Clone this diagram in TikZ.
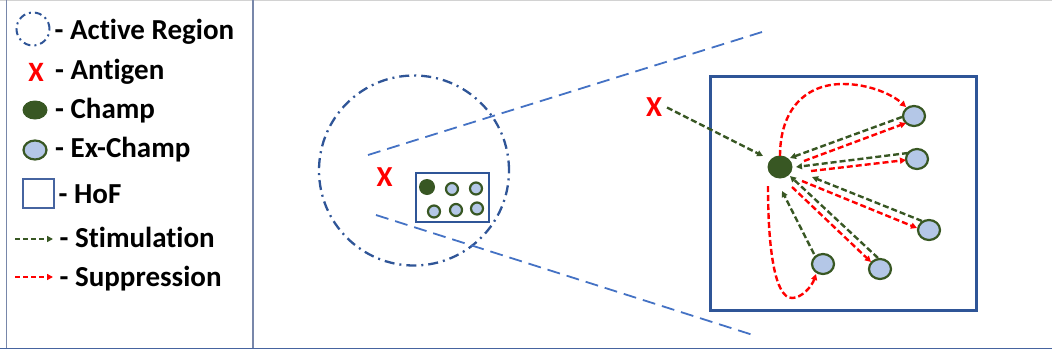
\documentclass[tikz,border=0pt]{standalone}
\usepackage{fontspec}
\setmainfont{Carlito}[Ligatures=NoCommon]
\usetikzlibrary{arrows.meta,shapes.geometric,calc}
\definecolor{champgreen}{RGB}{56,87,35}
\definecolor{exfill}{RGB}{180,199,231}
\definecolor{hofblue}{RGB}{47,85,151}
\definecolor{zoomblue}{RGB}{68,114,196}
\definecolor{frameblue}{RGB}{70,100,160}
\definecolor{framegray}{RGB}{120,135,170}
\definecolor{topgray}{RGB}{210,210,210}
\tikzset{
  champ/.style={ellipse, fill=champgreen, inner sep=0, minimum width=25, minimum height=23},
  exchamp/.style={ellipse, draw=champgreen, fill=exfill, line width=2.2, inner sep=0, minimum width=22, minimum height=20},
  minichamp/.style={circle, fill=champgreen, inner sep=0, minimum size=16},
  miniex/.style={circle, draw=champgreen, fill=exfill, line width=2.2, inner sep=0, minimum size=12},
  antigen/.style={text=red, inner sep=0, font=\fontsize{29}{30}\selectfont\bfseries},
  legtext/.style={anchor=base west, inner sep=0, font=\fontsize{29}{32}\selectfont\bfseries},
  hofbox/.style={draw=hofblue, line width=3},
  region/.style={draw=hofblue, line width=2.3, dash pattern=on 10pt off 5pt on 2pt off 5pt},
  zoomline/.style={draw=zoomblue, line width=1.8, dash pattern=on 13pt off 7pt},
  tip/.style={-{Triangle[length=6pt,width=6pt]}},
  stim/.style={tip, draw=champgreen, line width=2.4, dash pattern=on 6pt off 3pt},
  supp/.style={tip, draw=red, line width=2.4, dash pattern=on 6pt off 3pt},
}
\begin{document}
\begin{tikzpicture}[x=1pt,y=-1pt]
\useasboundingbox (0,0) rectangle (1052,354);

% frame lines
\draw[topgray, line width=1] (0,0.5) -- (1052,0.5);
\draw[framegray, line width=1] (6,0) -- (6,348);
\draw[framegray, line width=1.2] (253,0) -- (253,348);
\draw[frameblue, line width=1.6] (0,348.5) -- (1052,348.5);

% ---------- legend ----------
\node[circle, inner sep=0, minimum size=33, draw=hofblue, line width=2,
      dash pattern=on 7pt off 4pt on 2pt off 4pt] (lact) at (33,29) {};
\node[antigen, font=\fontsize{28}{30}\selectfont\bfseries] (lant) at (36,72) {X};
\node[ellipse, fill=champgreen, inner sep=0, minimum width=25, minimum height=19] (lchamp) at (35,110) {};
\node[ellipse, draw=champgreen, fill=exfill, line width=2.2, inner sep=0, minimum width=23, minimum height=19] (lex) at (35,150) {};
\node[draw=frameblue, line width=1.8, inner sep=0, minimum width=31, minimum height=29] (lhof) at (38.5,193.5) {};
\coordinate (ls0) at (15,239); \coordinate (ls1) at (53,239);
\coordinate (lp0) at (15,277); \coordinate (lp1) at (53,277);
\draw[stim, line width=2, dash pattern=on 5pt off 3pt] (ls0) -- (ls1);
\draw[supp, line width=2, dash pattern=on 5pt off 3pt] (lp0) -- (lp1);

\node[legtext] (tact) at (54.5,39) {- Active Region};
\node[legtext] (tant) at (55,79) {- Antigen};
\node[legtext] (tchamp) at (55,118) {- Champ};
\node[legtext] (tex) at (55,157) {- Ex-Champ};
\node[legtext] (thof) at (58.5,203) {- HoF};
\node[legtext] (tstim) at (59.5,247) {- Stimulation};
\node[legtext] (tsupp) at (59.5,286) {- Suppression};

% ---------- active region ----------
\node[circle, region, inner sep=0, minimum size=190] (act) at (414,170.5) {};
\node[antigen] (xmid) at (384.5,177.5) {X};
\node[draw=hofblue, line width=2.3, inner sep=0, minimum width=73, minimum height=49] (minihof) at (452.5,197.5) {};
\node[minichamp] (m0) at (427,187) {};
\node[miniex] (m1) at (452,189) {};
\node[miniex] (m2) at (476,188.5) {};
\node[miniex] (m3) at (434,211.5) {};
\node[miniex] (m4) at (456,210) {};
\node[miniex] (m5) at (477,208.5) {};

% zoom guide lines
\coordinate (zu0) at (368,155); \coordinate (zu1) at (762,32);
\coordinate (zl0) at (376,215); \coordinate (zl1) at (753,335);
\draw[zoomline] (zu0) -- (zu1);
\draw[zoomline] (zl0) -- (zl1);

% ---------- hall of fame (enlarged) ----------
\node[hofbox, inner sep=0, minimum width=266, minimum height=234] (hof) at (843,193) {};
\node[antigen] (xr) at (654,107.5) {X};
\node[champ] (c) at (780,167) {};
\node[exchamp] (e1) at (914,116) {};
\node[exchamp] (e2) at (917,159) {};
\node[exchamp] (e3) at (929,230) {};
\node[exchamp] (e4) at (880,269) {};
\node[exchamp] (e5) at (823,264) {};

% stimulation
\draw[stim] ($(xr)+(13,0)$) -- ($(c)+(-17,-11)$);
\draw[stim] ($(e1)+(-12,1)$) -- ($(c)+(10,-9)$);
\draw[stim] ($(e2)+(-9,-6)$) -- ($(c)+(16,0)$);
\draw[stim] ($(e3)+(-7,-9)$) -- ($(c)+(32,10)$);
\draw[stim] ($(e4)+(-2,-11)$) -- ($(c)+(10,9)$);
\draw[stim] ($(e5)+(-9,-10)$) -- ($(c)+(2,24)$);

% suppression
\draw[supp] ($(c)+(24,-6)$) -- ($(e1)+(-8,7)$);
\draw[supp] ($(c)+(31,4)$) -- ($(e2)+(-11,1)$);
\draw[supp] ($(c)+(22,14)$) -- ($(e3)+(-12,-2)$);
\draw[supp] ($(c)+(12,20)$) -- ($(e4)+(-9,-7)$);
\draw[supp] ($(c)+(0,-11)$) .. controls (780,110) and (805,84) .. (843,84)
            .. controls (870,84) and (893,95) .. ($(e1)+(-8,-9)$);
\draw[supp] ($(c)+(-12,19)$) .. controls (768,250) and (775,298) .. (792,298)
            .. controls (802,298) and (812,286) .. ($(e5)+(-7,10)$);
\end{tikzpicture}
\end{document}
